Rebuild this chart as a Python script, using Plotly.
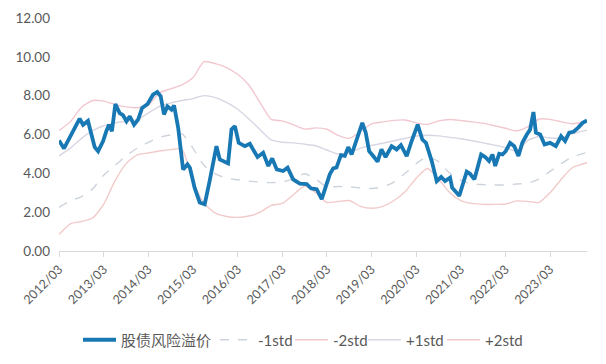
import plotly.graph_objects as go

# ---- main series: 股债风险溢价 ----
erp_dates = [
    "2012-03-01", "2012-04-11", "2012-08-17", "2012-09-14", "2012-10-24", "2012-11-16",
    "2012-12-18", "2013-01-15", "2013-02-25", "2013-03-23", "2013-04-14", "2013-05-08",
    "2013-06-05", "2013-07-10", "2013-08-06", "2013-09-04", "2013-10-01", "2013-11-05",
    "2013-12-08", "2014-01-10", "2014-02-24", "2014-04-09", "2014-05-14", "2014-06-11",
    "2014-07-08", "2014-08-05", "2014-09-07", "2014-09-28", "2014-11-01", "2014-12-11",
    "2015-01-16", "2015-02-05", "2015-03-15", "2015-04-26", "2015-06-06", "2015-07-16",
    "2015-09-10", "2015-10-07", "2015-12-14", "2016-01-11", "2016-02-08", "2016-03-10",
    "2016-04-29", "2016-06-09", "2016-08-11", "2016-09-26", "2016-11-07", "2016-12-09",
    "2017-01-15", "2017-03-08", "2017-04-14", "2017-05-29", "2017-07-23", "2017-09-17",
    "2017-10-22", "2017-12-08", "2018-01-18", "2018-03-25", "2018-04-22", "2018-05-19",
    "2018-06-24", "2018-07-26", "2018-08-23", "2018-09-20", "2018-11-01", "2018-12-16",
    "2019-01-13", "2019-02-10", "2019-03-15", "2019-04-20", "2019-05-22", "2019-06-24",
    "2019-08-13", "2019-09-23", "2019-10-28", "2019-12-14", "2020-01-25", "2020-03-13",
    "2020-04-20", "2020-05-20", "2020-07-06", "2020-08-16", "2020-09-21", "2020-10-23",
    "2020-12-03", "2020-12-20", "2021-02-16", "2021-04-18", "2021-05-15", "2021-06-20",
    "2021-08-14", "2021-09-16", "2021-10-18", "2021-11-15", "2021-12-07", "2022-01-09",
    "2022-02-05", "2022-03-03", "2022-04-08", "2022-05-12", "2022-06-15", "2022-07-17",
    "2022-08-23", "2022-09-19", "2022-10-16", "2022-11-05", "2022-12-10", "2023-01-15",
    "2023-03-01", "2023-04-17", "2023-05-30", "2023-07-02", "2023-08-04", "2023-09-09",
    "2023-10-15", "2023-11-22", "2023-12-28",
]
erp_values = [
    5.69, 5.28, 6.82, 6.50, 6.70, 6.17,
    5.35, 5.14, 5.66, 6.17, 6.50, 6.17,
    7.57, 7.10, 7.00, 6.68, 6.94, 6.50,
    6.77, 7.37, 7.57, 8.05, 8.19, 7.97,
    7.03, 7.45, 7.28, 7.50, 6.34, 4.20,
    4.46, 4.29, 3.26, 2.50, 2.41, 3.60,
    5.40, 4.72, 4.51, 6.26, 6.43, 5.57,
    5.40, 5.52, 4.84, 5.06, 4.38, 4.77,
    4.20, 4.12, 4.29, 3.69, 3.47, 3.45,
    3.23, 3.18, 2.67, 3.95, 4.26, 4.30,
    4.94, 4.90, 5.35, 4.97, 5.83, 6.60,
    6.09, 5.14, 4.89, 4.60, 5.23, 4.84,
    5.40, 5.23, 5.45, 4.89, 5.69, 6.51,
    5.74, 5.57, 4.63, 3.60, 3.81, 3.60,
    3.78, 3.26, 2.84, 4.09, 3.98, 3.69,
    4.97, 4.84, 4.63, 4.97, 4.38, 5.01,
    4.97, 5.14, 5.57, 5.40, 4.89, 5.57,
    6.00, 6.26, 7.16, 6.09, 6.00, 5.49,
    5.57, 5.40, 5.91, 5.66, 6.09, 6.14,
    6.34, 6.60, 6.72,
]

# ---- std bands (quarterly readings) ----
band_dates = [
    "2012-03-01", "2012-06-01", "2012-09-01", "2012-12-01",
    "2013-03-01", "2013-06-01", "2013-09-01", "2013-12-01",
    "2014-03-01", "2014-06-01", "2014-09-01", "2014-12-01",
    "2015-03-01", "2015-06-01", "2015-09-01", "2015-12-01",
    "2016-03-01", "2016-06-01", "2016-09-01", "2016-12-01",
    "2017-03-01", "2017-06-01", "2017-09-01", "2017-12-01",
    "2018-03-01", "2018-06-01", "2018-09-01", "2018-12-01",
    "2019-03-01", "2019-06-01", "2019-09-01", "2019-12-01",
    "2020-03-01", "2020-06-01", "2020-09-01", "2020-12-01",
    "2021-03-01", "2021-06-01", "2021-09-01", "2021-12-01",
    "2022-03-01", "2022-06-01", "2022-09-01", "2022-12-01",
    "2023-03-01", "2023-06-01", "2023-09-01", "2023-12-28",
]
minus1_std = [
    2.25, 2.58, 2.80, 3.20, 3.90, 4.40, 4.90, 5.30, 5.60, 5.85, 5.98, 6.03,
    5.30, 4.40, 3.97, 3.75, 3.67, 3.60, 3.55, 3.52, 3.55, 3.72, 3.98, 3.70,
    3.30, 3.32, 3.30, 3.25, 3.22, 3.30, 3.55, 4.00, 4.50, 4.85, 4.60, 4.00,
    3.65, 3.45, 3.42, 3.40, 3.40, 3.45, 3.50, 3.70, 4.10, 4.50, 4.85, 5.08,
]
minus2_std = [
    0.85, 1.40, 1.52, 1.70, 2.40, 3.60, 4.50, 4.95, 5.05, 5.15, 5.22, 5.25,
    3.60, 2.45, 1.95, 1.78, 1.73, 1.80, 2.00, 2.35, 2.45, 2.90, 3.35, 3.00,
    2.50, 2.55, 2.60, 2.30, 2.20, 2.30, 2.60, 3.05, 3.75, 4.25, 3.70, 3.00,
    2.60, 2.45, 2.40, 2.40, 2.42, 2.58, 2.55, 2.50, 3.00, 3.70, 4.30, 4.55,
]
plus1_std = [
    4.90, 5.30, 5.80, 6.20, 6.45, 6.60, 6.68, 6.77, 7.10, 7.45, 7.62, 7.75,
    7.85, 8.00, 7.90, 7.65, 7.30, 6.80, 6.25, 5.72, 5.60, 5.57, 5.50, 5.42,
    5.20, 5.00, 5.05, 5.30, 5.44, 5.55, 5.68, 5.80, 5.92, 5.96, 5.93, 5.85,
    5.78, 5.68, 5.57, 5.45, 5.32, 5.15, 5.70, 5.90, 5.82, 5.83, 6.05, 6.22,
]
plus2_std = [
    6.20, 6.65, 7.40, 7.75, 7.72, 7.55, 7.42, 7.38, 7.50, 8.15, 8.35, 8.55,
    8.92, 9.75, 9.65, 9.45, 9.10, 8.55, 7.64, 6.78, 6.70, 6.50, 6.28, 6.34,
    6.27, 5.95, 5.80, 6.15, 6.55, 6.65, 6.73, 6.75, 6.60, 6.52, 6.70, 6.77,
    6.72, 6.65, 6.57, 6.45, 6.32, 6.18, 6.40, 6.80, 6.78, 6.65, 6.55, 6.68,
]

y_ticks = [0, 2, 4, 6, 8, 10, 12]

font_main = "Lato, 'Noto Sans CJK SC', sans-serif"
gray_text = "#595959"

# the page body adds an 8px offset; layout values below compensate for it
OFF = 8

fig = go.Figure()

# (name, values, colour, dash, legend id, legend left px on screen)
band_specs = [
    ("-1std", minus1_std, "#cdd3dc", "dash", "legend2", 215),
    ("-2std", minus2_std, "#f2caca", "solid", "legend3", 290),
    ("+1std", plus1_std, "#dad5e3", "solid", "legend4", 363),
    ("+2std", plus2_std, "#f2c8d0", "solid", "legend5", 442),
]

for name, vals, color, dash, leg, _ in band_specs:
    fig.add_trace(go.Scatter(
        x=band_dates, y=vals, name=name, mode="lines", legend=leg,
        line=dict(color=color, width=1.4, dash=dash, shape="spline", smoothing=0.6),
    ))
fig.add_trace(go.Scatter(
    x=erp_dates, y=erp_values, name="股债风险溢价", mode="lines", legend="legend",
    line=dict(color="#1878b4", width=3.8),
))

W, H = 606, 364
legend_y = 1 - (340 - OFF) / H


def legend_at(px):
    return dict(
        xref="container", yref="container",
        x=(px - OFF) / W, xanchor="left", y=legend_y, yanchor="middle",
        orientation="h", bgcolor="rgba(0,0,0,0)", borderwidth=0,
        font=dict(size=15, color=gray_text, family=font_main),
        itemwidth=33,
    )


layout_legends = {"legend": legend_at(78)}
for name, vals, color, dash, leg, px in band_specs:
    layout_legends[leg] = legend_at(px)

fig.update_layout(
    width=W, height=H,
    margin=dict(l=59 - OFF, r=19 + OFF, t=18 - OFF, b=112.5 + OFF, autoexpand=False),
    paper_bgcolor="white", plot_bgcolor="white",
    font=dict(family=font_main, size=13, color=gray_text),
    showlegend=True,
    **layout_legends,
)
fig.update_xaxes(
    type="date",
    range=["2012-03-01", "2023-12-28"],
    tick0="2012-03-01", dtick="M12", tickformat="%Y/%m",
    tickangle=-45, automargin=False,
    showgrid=False, zeroline=False,
    showline=True, linecolor="#d9d9d9", linewidth=1.3,
    ticks="outside", ticklen=5, tickcolor="#d9d9d9", tickwidth=1,
    tickfont=dict(size=12.5, color=gray_text, family=font_main),
)
fig.update_yaxes(
    range=[0, 12], tickvals=y_ticks, tickformat=".2f", automargin=False,
    showgrid=False, zeroline=False, showline=False,
    ticks="", ticklabelstandoff=8,
    tickfont=dict(size=13.5, color=gray_text, family=font_main),
)

fig.write_html("out.html")
